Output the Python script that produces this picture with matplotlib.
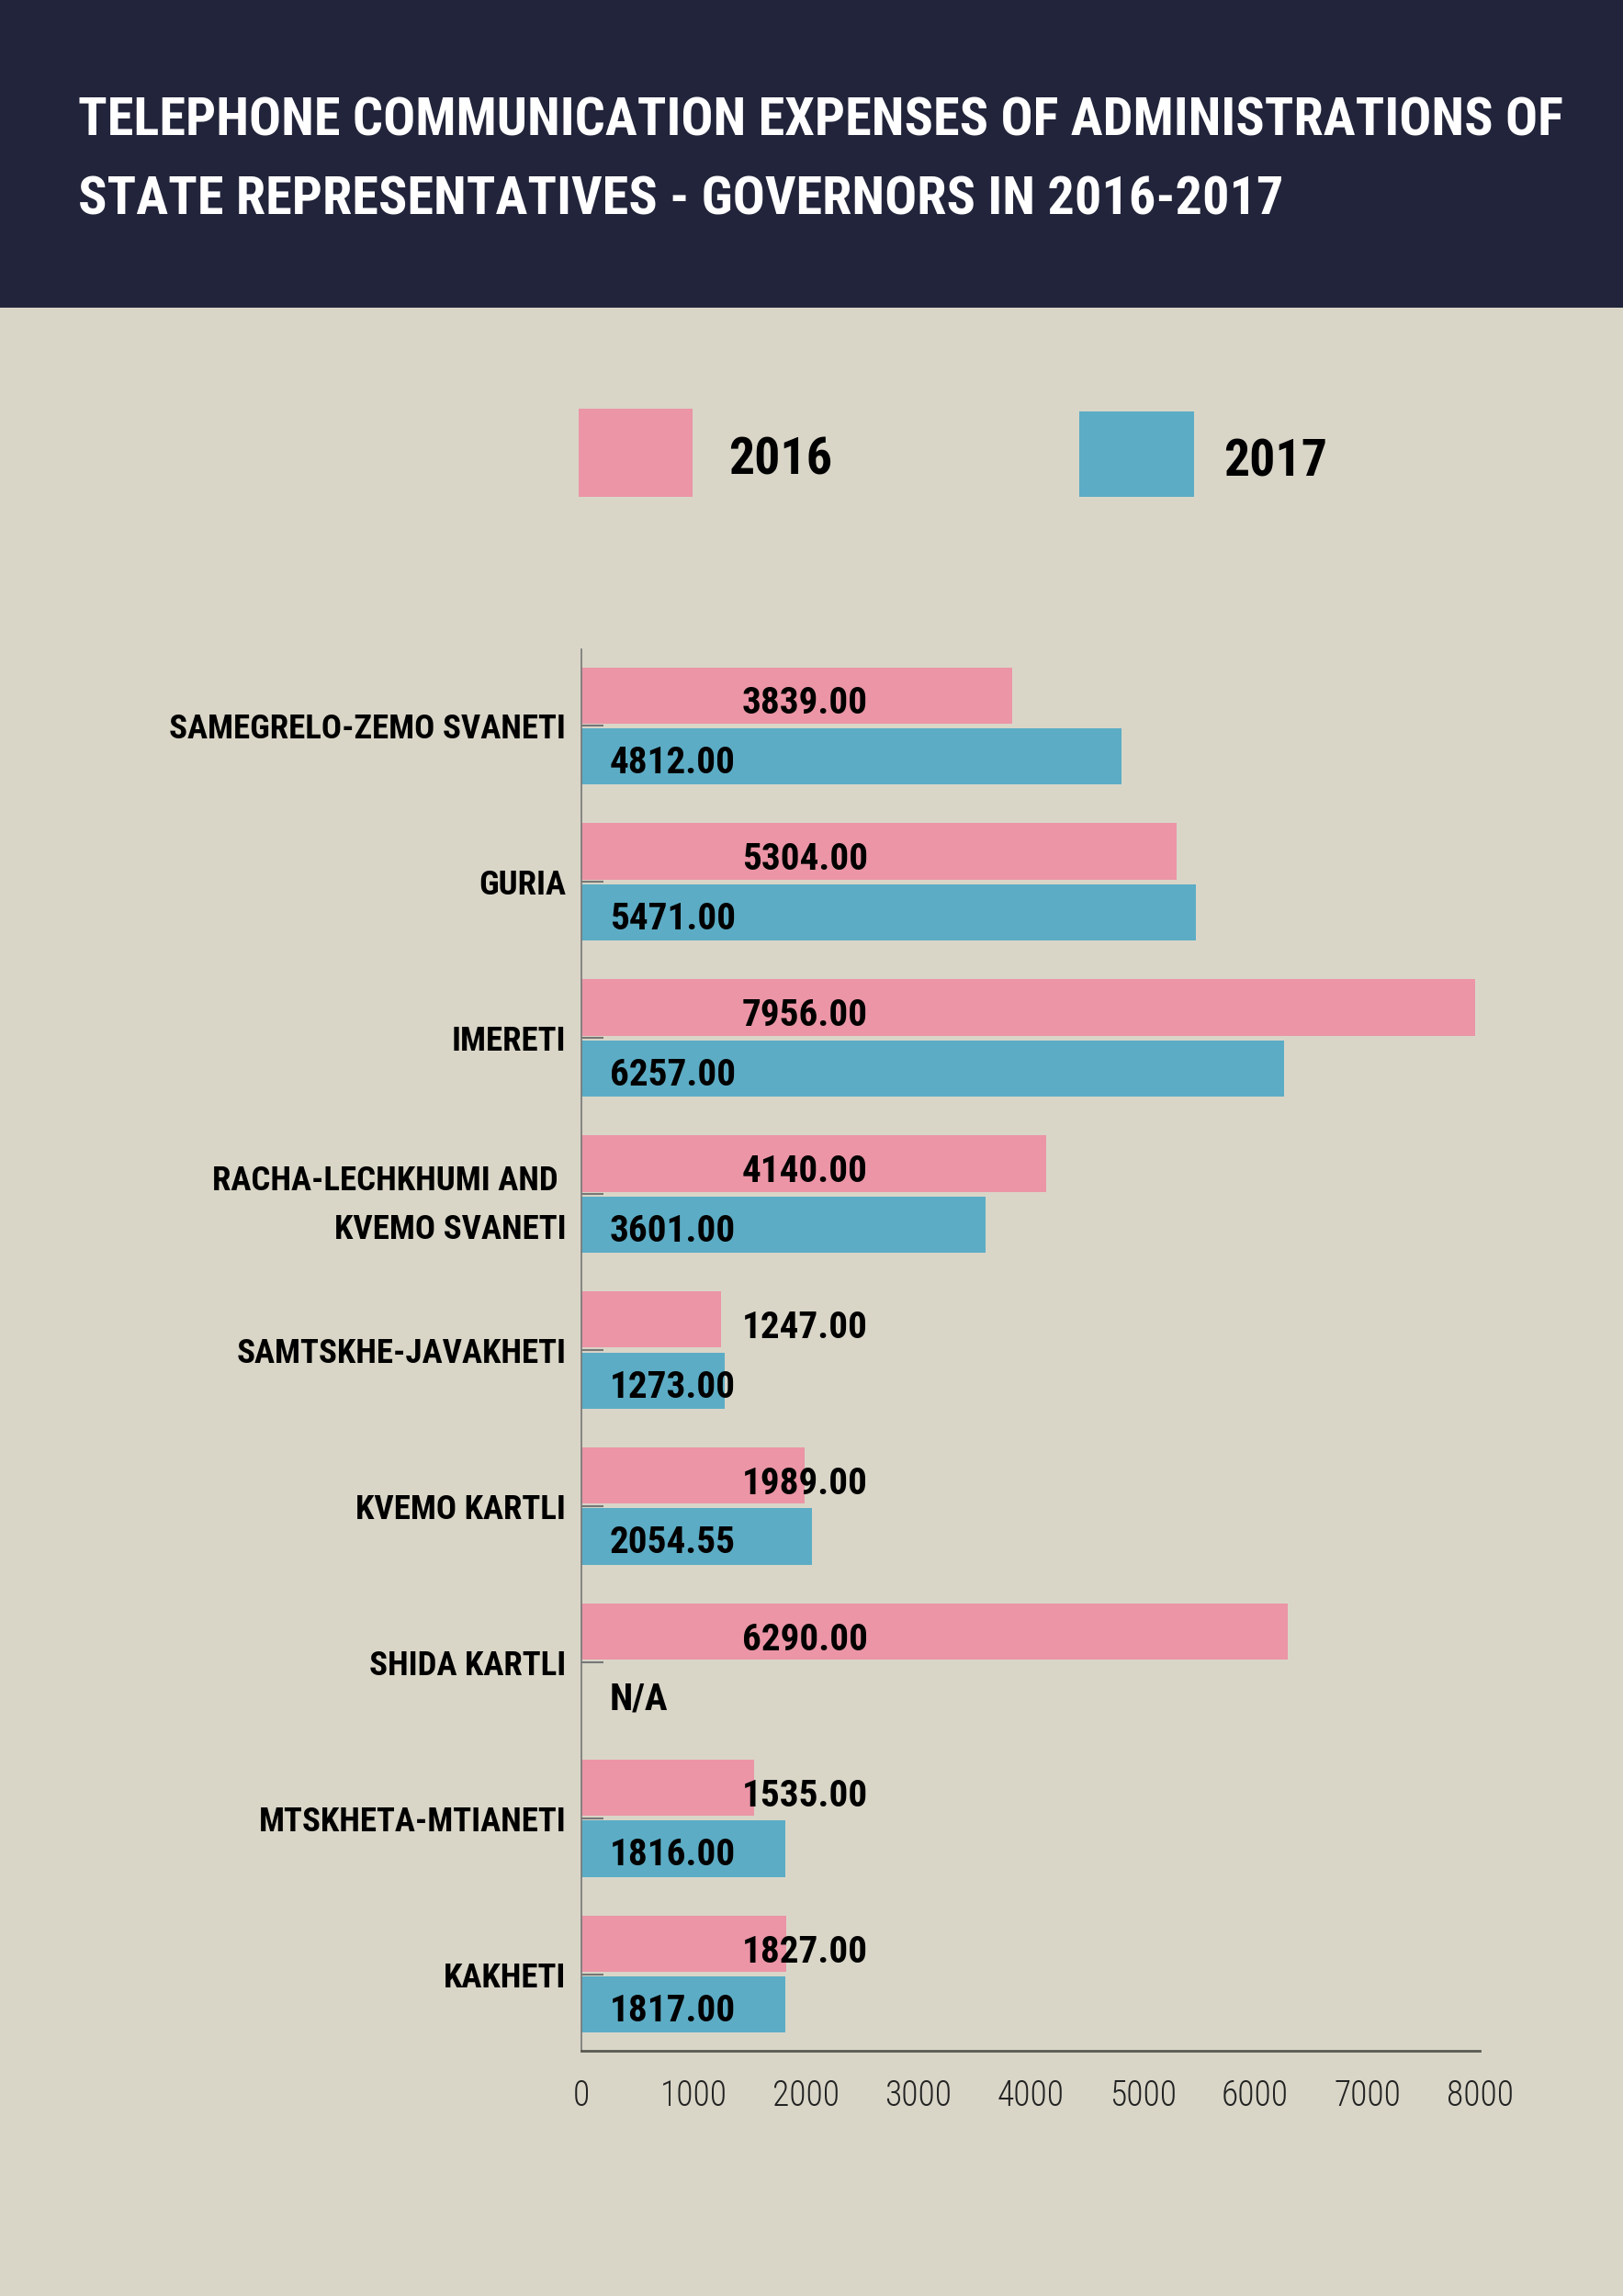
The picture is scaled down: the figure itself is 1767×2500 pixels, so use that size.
import numpy as np
import matplotlib
matplotlib.use("Agg")
import matplotlib.pyplot as plt
from matplotlib.patches import Rectangle
from matplotlib import font_manager as fm

categories = ["SAMEGRELO-ZEMO SVANETI", "GURIA", "IMERETI",
              "RACHA-LECHKHUMI AND \nKVEMO SVANETI", "SAMTSKHE-JAVAKHETI",
              "KVEMO KARTLI", "SHIDA KARTLI", "MTSKHETA-MTIANETI", "KAKHETI"]
values_2016 = [3839.00, 5304.00, 7956.00, 4140.00, 1247.00, 1989.00, 6290.00, 1535.00, 1827.00]
values_2017 = [4812.00, 5471.00, 6257.00, 3601.00, 1273.00, 2054.55, np.nan, 1816.00, 1817.00]
labels_2016 = ["3839.00", "5304.00", "7956.00", "4140.00", "1247.00", "1989.00", "6290.00", "1535.00", "1827.00"]
labels_2017 = ["4812.00", "5471.00", "6257.00", "3601.00", "1273.00", "2054.55", "N/A", "1816.00", "1817.00"]
series_names = ["2016", "2017"]
x_ticks = [0, 1000, 2000, 3000, 4000, 5000, 6000, 7000, 8000]
title_lines = ["TELEPHONE COMMUNICATION EXPENSES OF ADMINISTRATIONS OF",
               "STATE REPRESENTATIVES - GOVERNORS IN 2016-2017"]

BG = "#d9d6c8"
HEADER = "#22243b"
PINK = "#eb95a6"
BLUE = "#5cacc5"

# choose the most condensed installed sans font
FAMILY, STRETCH = "DejaVu Sans", "normal"
pref = ["Roboto Condensed", "Liberation Sans Narrow", "Open Sans Condensed",
        "Noto Sans Condensed", "DejaVu Sans Condensed"]
names = {f.name for f in fm.fontManager.ttflist}
found = False
for p in pref:
    if p in names:
        FAMILY, STRETCH = p, "normal"
        found = True
        break
if not found:
    for f in fm.fontManager.ttflist:
        if f.name in ("Roboto", "Noto Sans", "Open Sans", "DejaVu Sans", "Liberation Sans") \
                and str(f.stretch) in ("condensed", "semi-condensed", "extra-condensed"):
            FAMILY, STRETCH = f.name, f.stretch
            found = True
            break

W, H = 1767, 2500
fig = plt.figure(figsize=(W / 100, H / 100), dpi=100, facecolor=BG)
renderer = fig.canvas.get_renderer()


def fit(s, target_w, max_size, weight="bold"):
    t = fig.text(0, 0, s, fontsize=100, fontweight=weight, family=FAMILY, fontstretch=STRETCH)
    w = t.get_window_extent(renderer).width
    t.remove()
    return min(max_size, 100 * target_w / w)


title_fs = fit(title_lines[0], 1615, 50)
legend_fs = fit("2016", 113, 44)
value_fs = fit("3839.00", 137, 31)
cat_fs = fit("SAMEGRELO-ZEMO SVANETI", 432, 28)
tick_fs = fit("1000", 75, 27, weight="light")

common = dict(family=FAMILY, fontstretch=STRETCH)

# header band
fig.add_artist(Rectangle((0, 1 - 335 / H), 1, 335 / H, transform=fig.transFigure,
                         facecolor=HEADER, edgecolor="none", zorder=0))
fig.text(85 / W, 1 - 126 / H, title_lines[0], color="white", fontsize=title_fs,
         fontweight="bold", va="center_baseline", ha="left", **common)
fig.text(85 / W, 1 - 212 / H, title_lines[1], color="white", fontsize=title_fs,
         fontweight="bold", va="center_baseline", ha="left", **common)

# legend
fig.add_artist(Rectangle((630 / W, 1 - 541 / H), 124 / W, 96 / H, transform=fig.transFigure,
                         facecolor=PINK, edgecolor="none"))
fig.add_artist(Rectangle((1175 / W, 1 - 541 / H), 125 / W, 93 / H, transform=fig.transFigure,
                         facecolor=BLUE, edgecolor="none"))
fig.text(793 / W, 1 - 496 / H, series_names[0], fontsize=legend_fs, fontweight="bold",
         va="center_baseline", ha="left", color="black", **common)
fig.text(1332 / W, 1 - 498 / H, series_names[1], fontsize=legend_fs, fontweight="bold",
         va="center_baseline", ha="left", color="black", **common)

ax = fig.add_axes([633 / W, 1 - 2233 / H, (1611 - 633) / W, (2233 - 707) / H])
ax.set_facecolor(BG)

y = np.arange(len(categories))
h = 0.36
off = 0.195
ax.barh(y - off, values_2016, height=h, color=PINK, zorder=2)
ax.barh(y + off, np.nan_to_num(values_2017), height=h, color=BLUE, zorder=2)

for yi, lab in zip(y, labels_2016):
    ax.text(1430, yi - off + 0.03, lab, fontsize=value_fs, fontweight="bold",
            va="center_baseline", ha="left", color="black", zorder=3, **common)
for yi, lab in zip(y, labels_2017):
    ax.text(250, yi + off + 0.02, lab, fontsize=value_fs, fontweight="bold",
            va="center_baseline", ha="left", color="black", zorder=3, **common)

ax.set_xlim(0, 8000)
ax.set_ylim(len(categories) - 0.51, -0.49)
ax.set_yticks(y)
ax.set_yticklabels(categories, fontsize=cat_fs, fontweight="bold", linespacing=1.6, **common)
ax.set_xticks(x_ticks)
ax.set_xticklabels([str(t) for t in x_ticks], fontsize=tick_fs, fontweight="light",
                   color="#222222", **common)
ax.tick_params(axis="y", direction="in", length=17, width=1.5, color="#777777", pad=12)
ax.tick_params(axis="x", length=0, pad=22)

for s in ["top", "right"]:
    ax.spines[s].set_visible(False)
ax.spines["left"].set_color("#777777")
ax.spines["left"].set_linewidth(1.2)
ax.spines["bottom"].set_color("#5a5a50")
ax.spines["bottom"].set_linewidth(2)

fig.savefig("out.png", dpi=100, facecolor=BG)
